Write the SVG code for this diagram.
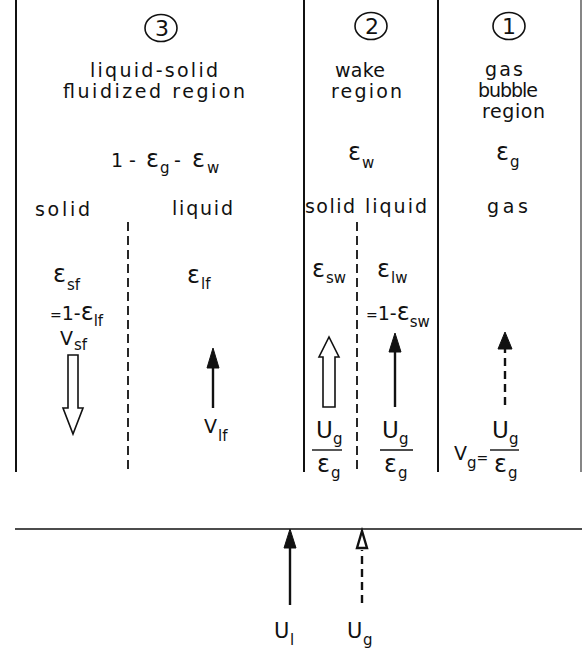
<svg xmlns="http://www.w3.org/2000/svg" width="582" height="652" viewBox="0 0 582 652">
<style>
.t{font-family:"DejaVu Sans","Liberation Sans",sans-serif;font-size:19px;fill:#111}
.e{font-size:24px}
.s{font-size:15px}
.q{font-size:14px}
.u{font-size:23px}
.n{font-size:22px;text-anchor:middle}
.wall{stroke:#111;stroke-width:2;fill:none}
.div{stroke:#111;stroke-width:1.8;stroke-dasharray:9 5;fill:none}
.ring{stroke:#111;stroke-width:1.6;fill:none}
.shaft{stroke:#111;stroke-width:2.4;fill:none}
.dsh{stroke:#111;stroke-width:2.4;stroke-dasharray:8 5;fill:none}
.head{fill:#111;stroke:#111;stroke-width:1}
.hollow{fill:#fff;stroke:#111;stroke-width:1.6;stroke-linejoin:miter}
.frac{stroke:#111;stroke-width:1.4}
</style>
<rect width="582" height="652" fill="#fff"/>

<g id="walls">
<line class="wall" x1="16" y1="0" x2="16" y2="472"/>
<line class="wall" x1="304" y1="0" x2="304" y2="472"/>
<line class="wall" x1="438" y1="0" x2="438" y2="472"/>
<line class="wall" x1="581" y1="0" x2="581" y2="472" style="stroke-width:1.3;stroke:#444"/>
<line class="div" x1="128" y1="222" x2="128" y2="472"/>
<line class="div" x1="357" y1="222" x2="357" y2="472"/>
</g>

<g id="region-3">
<ellipse class="ring" cx="161" cy="28" rx="16" ry="13.5"/>
<text class="t n" x="162" y="36">3</text>
<text class="t" x="90" y="77" textLength="128" lengthAdjust="spacing">liquid-solid</text>
<text class="t" x="63" y="98" textLength="182" lengthAdjust="spacing">fluidized region</text>
<text class="t" y="167"><tspan x="111">1</tspan><tspan x="129">-</tspan><tspan x="146" class="e">ε</tspan><tspan x="160" y="173" class="s">g</tspan><tspan x="174" y="167">-</tspan><tspan x="192" class="e">ε</tspan><tspan x="207" y="173" class="s">w</tspan></text>
<text class="t" x="35" y="216" textLength="55" lengthAdjust="spacing">solid</text>
<text class="t" x="172" y="215" textLength="61" lengthAdjust="spacing">liquid</text>
<text class="t" y="282"><tspan x="53" class="e">ε</tspan><tspan x="67" y="290" class="s">sf</tspan></text>
<text class="t" x="50" y="320"><tspan class="q">=</tspan>1-<tspan class="e">ε</tspan><tspan class="s" dy="6">lf</tspan></text>
<text class="t" y="345"><tspan x="60">V</tspan><tspan x="74" y="350" class="s">sf</tspan></text>
<text class="t" y="283"><tspan x="187" class="e">ε</tspan><tspan x="201" y="289" class="s">lf</tspan></text>
<text class="t" y="433"><tspan x="204">V</tspan><tspan x="218" y="441" class="s">lf</tspan></text>
</g>

<g id="region-2">
<ellipse class="ring" cx="371" cy="26" rx="16" ry="13.5"/>
<text class="t n" x="372" y="34">2</text>
<text class="t" x="335" y="77" textLength="50" lengthAdjust="spacing">wake</text>
<text class="t" x="331" y="98" textLength="71" lengthAdjust="spacing">region</text>
<text class="t" y="160"><tspan x="348" class="e">ε</tspan><tspan x="362" y="168" class="s">w</tspan></text>
<text class="t" x="305" y="213" textLength="50" lengthAdjust="spacing">solid</text>
<text class="t" x="365" y="213" textLength="62" lengthAdjust="spacing">liquid</text>
<text class="t" y="277"><tspan x="312" class="e">ε</tspan><tspan x="326" y="283" class="s">sw</tspan></text>
<text class="t" y="277"><tspan x="377" class="e">ε</tspan><tspan x="391" y="283" class="s">lw</tspan></text>
<text class="t" x="366" y="320"><tspan class="q">=</tspan>1-<tspan class="e">ε</tspan><tspan class="s" dy="7">sw</tspan></text>
<text class="t u" x="316" y="438">U</text>
<text class="t s" x="333" y="444">g</text>
<line class="frac" x1="312" y1="450" x2="342" y2="450"/>
<text class="t e" x="317" y="472">ε</text>
<text class="t s" x="331" y="478">g</text>
<text class="t u" x="382" y="438">U</text>
<text class="t s" x="399" y="444">g</text>
<line class="frac" x1="380" y1="450" x2="413" y2="450"/>
<text class="t e" x="384" y="472">ε</text>
<text class="t s" x="398" y="478">g</text>
</g>

<g id="region-1">
<ellipse class="ring" cx="509" cy="26" rx="16" ry="13.5"/>
<text class="t n" x="509" y="34">1</text>
<text class="t" x="485" y="76" textLength="38" lengthAdjust="spacing">gas</text>
<text class="t" x="478" y="97" textLength="60" lengthAdjust="spacing">bubble</text>
<text class="t" x="482" y="118" textLength="63" lengthAdjust="spacing">region</text>
<text class="t" y="160"><tspan x="496" class="e">ε</tspan><tspan x="510" y="167" class="s">g</tspan></text>
<text class="t" x="487" y="213" textLength="41" lengthAdjust="spacing">gas</text>
<text class="t" x="454" y="460">V<tspan class="s" dy="8">g</tspan><tspan class="q" dy="-5">=</tspan></text>
<text class="t u" x="492" y="438">U</text>
<text class="t s" x="509" y="444">g</text>
<line class="frac" x1="490" y1="450" x2="519" y2="450"/>
<text class="t e" x="494" y="472">ε</text>
<text class="t s" x="508" y="478">g</text>
</g>

<g id="distributor">
<line x1="15" y1="529" x2="582" y2="529" stroke="#111" stroke-width="1.6"/>
<text class="t" y="638" style="font-size:21px"><tspan x="274">U</tspan><tspan x="290" y="645" class="s">l</tspan></text>
<text class="t" y="638" style="font-size:21px"><tspan x="347">U</tspan><tspan x="363" y="645" class="s">g</tspan></text>
</g>

<g id="connectors">
<polygon class="hollow" points="68,355 78,355 78,408 83,408 73,434 63,408 68,408"/>
<line class="shaft" x1="213" y1="408" x2="213" y2="364"/>
<polygon class="head" points="213,348 207,368 219,368"/>
<polygon class="hollow" points="323,407 335,407 335,357 339,357 329,337 319,357 323,357"/>
<line class="shaft" x1="395" y1="407" x2="395" y2="348"/>
<polygon class="head" points="395,333 389,352 401,352"/>
<line class="dsh" x1="505" y1="405" x2="505" y2="346"/>
<polygon class="head" points="505,332 498,349 512,349"/>
<line class="shaft" x1="290" y1="605" x2="290" y2="545"/>
<polygon class="head" points="290,529 284,548 296,548"/>
<line class="dsh" x1="362" y1="603" x2="362" y2="550"/>
<polygon class="hollow" points="362,531 357,548 367,548" style="stroke-width:2.4"/>
</g>
</svg>
